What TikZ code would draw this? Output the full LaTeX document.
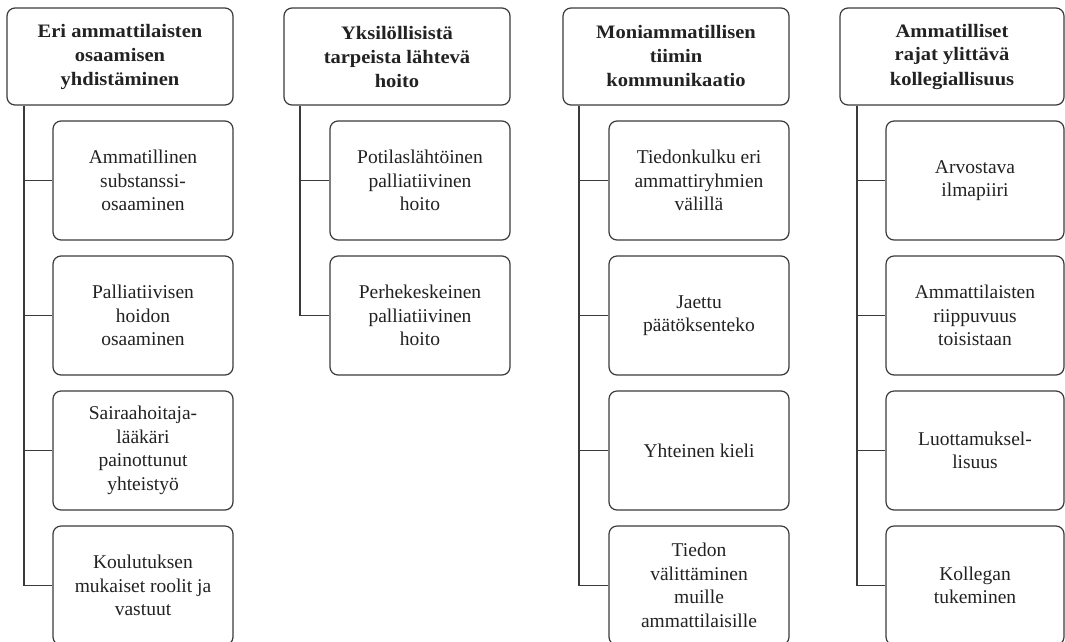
\documentclass[tikz,border=0pt]{standalone}
\usepackage{fontspec}
\setmainfont{Liberation Serif}[BoldFeatures={FakeStretch=1.08}]
\definecolor{lc}{HTML}{3A3A3A}
\definecolor{tc}{HTML}{222222}
\tikzset{
  hd/.style={draw=lc, line width=1.2pt, rounded corners=8pt, minimum width=226pt,
    minimum height=97pt, align=center, text=tc, inner sep=0pt,
    font=\fontsize{19}{24}\selectfont\bfseries},
  ch/.style={draw=lc, line width=1.2pt, rounded corners=8pt, minimum width=180pt,
    minimum height=119pt, align=center, text=tc, inner sep=0pt,
    font=\fontsize{19.5}{23.5}\selectfont},
  ln/.style={draw=lc, line width=1.2pt}
}
\begin{document}
\begin{tikzpicture}[x=1pt,y=-1pt]
\useasboundingbox (0,0) rectangle (1065,641);
\clip (0,0) rectangle (1065,641);
% column 1
\node[hd] (h1) at (120,56.5) {Eri ammattilaisten\\osaamisen\\yhdistäminen};
\node[ch] (c1-1) at (143,180.5) {Ammatillinen\\substanssi-\\osaaminen};
\node[ch] (c1-2) at (143,315.5) {Palliatiivisen\\hoidon\\osaaminen};
\node[ch] (c1-3) at (143,450.5) {Sairaahoitaja-\\lääkäri\\painottunut\\yhteistyö};
\node[ch] (c1-4) at (143,585.5) {Koulutuksen\\mukaiset roolit ja\\vastuut};
\coordinate (t1) at (24,0);
% column 2
\node[hd] (h2) at (397,56.5) {Yksilöllisistä\\tarpeista lähtevä\\hoito};
\node[ch] (c2-1) at (420,180.5) {Potilaslähtöinen\\palliatiivinen\\hoito};
\node[ch] (c2-2) at (420,315.5) {Perhekeskeinen\\palliatiivinen\\hoito};
\coordinate (t2) at (300,0);
% column 3
\node[hd] (h3) at (676,56.5) {Moniammatillisen\\tiimin\\kommunikaatio};
\node[ch] (c3-1) at (699,180.5) {Tiedonkulku eri\\ammattiryhmien\\välillä};
\node[ch] (c3-2) at (699,315.5) {Jaettu\\päätöksenteko};
\node[ch] (c3-3) at (699,450.5) {Yhteinen kieli};
\node[ch] (c3-4) at (699,585.5) {Tiedon\\välittäminen\\muille\\ammattilaisille};
\coordinate (t3) at (579,0);
% column 4
\node[hd, minimum width=224pt] (h4) at (952,56.5) {Ammatilliset\\rajat ylittävä\\kollegiallisuus};
\node[ch, minimum width=178pt] (c4-1) at (975,180.5) {Arvostava\\ilmapiiri};
\node[ch, minimum width=178pt] (c4-2) at (975,315.5) {Ammattilaisten\\riippuvuus\\toisistaan};
\node[ch, minimum width=178pt] (c4-3) at (975,450.5) {Luottamuksel-\\lisuus};
\node[ch, minimum width=178pt] (c4-4) at (975,585.5) {Kollegan\\tukeminen};
\coordinate (t4) at (857,0);
% connectors
\foreach \c/\n in {1/4,2/2,3/4,4/4}{
  \draw[ln] (h\c.south -| t\c) -- (t\c |- c\c-\n.west);
  \foreach \i in {1,...,\n}{
    \draw[ln] (t\c |- c\c-\i.west) -- (c\c-\i.west);
  }
}
\end{tikzpicture}
\end{document}
